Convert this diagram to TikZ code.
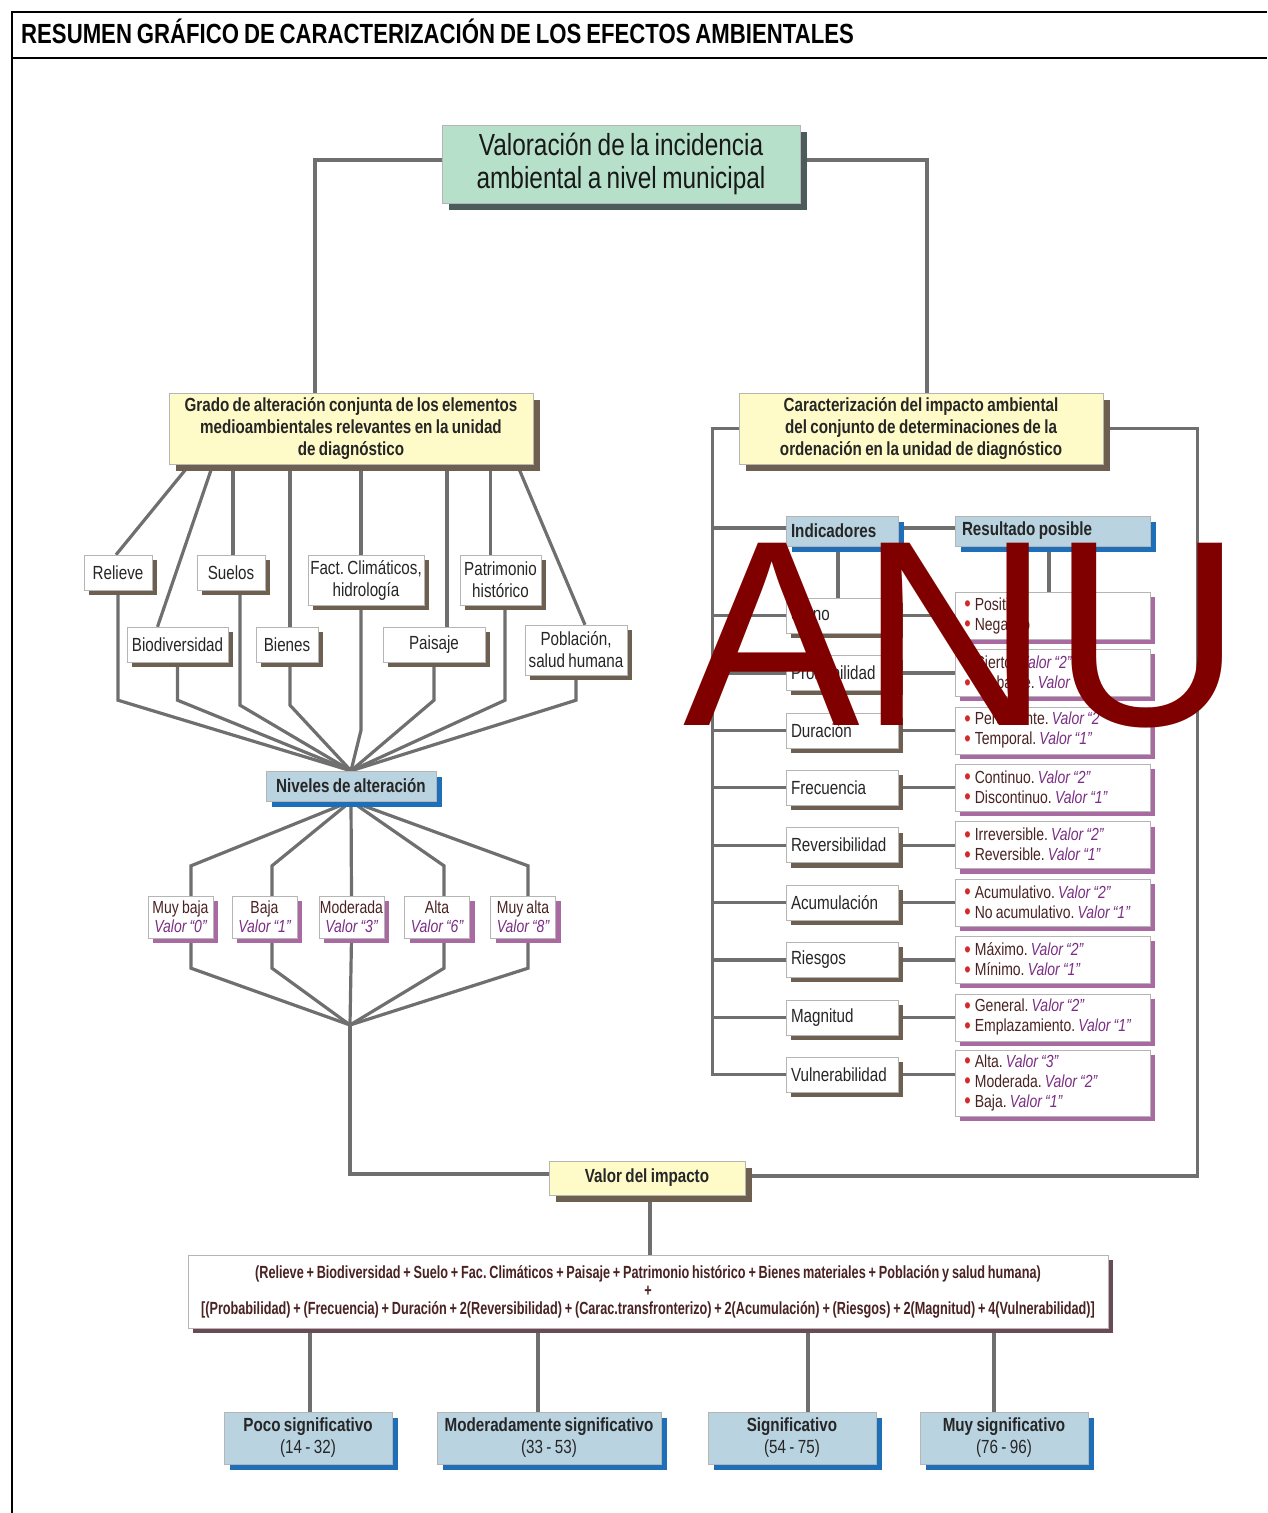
\documentclass[tikz,border=0pt]{standalone}
\usepackage{fontspec}
\setmainfont{Liberation Sans}[FakeStretch=0.8,WordSpace=0.8]
\newfontfamily\formfont{Liberation Sans}[FakeStretch=0.72,WordSpace=0.8]
\newfontfamily\stampfont{Liberation Sans}
\frenchspacing
\usepackage{tikz}
\usetikzlibrary{positioning,shadows,backgrounds}
\definecolor{LineGray}{HTML}{6F6F6F}
\definecolor{MintFill}{HTML}{B6E0C9}
\definecolor{MintShade}{HTML}{4B5C5A}
\definecolor{CreamFill}{HTML}{FFFBC9}
\definecolor{BrownShade}{HTML}{6E6050}
\definecolor{SkyFill}{HTML}{B9D3E0}
\definecolor{SkyShade}{HTML}{1C6FB8}
\definecolor{PlumShade}{HTML}{A96AA2}
\definecolor{MauveShade}{HTML}{6B4A57}
\definecolor{Maroon}{HTML}{4A2222}
\definecolor{Violet}{HTML}{7A2E84}
\definecolor{DotRed}{HTML}{D42A2A}
\definecolor{StampRed}{HTML}{800000}
\definecolor{EdgeGray}{HTML}{B5B5B5}
\newcommand{\fsz}[2]{\fontsize{#1}{#2}\selectfont}
\newcommand{\valor}[1]{\textcolor{Violet}{\itshape Valor “#1”}}
\newcommand{\punto}{\raisebox{-1.5pt}{\textcolor{DotRed}{\fsz{23}{20}\textbullet}}\hspace{4pt}}
\tikzset{
  link/.style={draw=LineGray,line width=3.2pt},
  mainbox/.style={rectangle,draw=EdgeGray,fill=MintFill,align=center,inner sep=0pt,font=\fsz{30.5}{33},text=black!90,
    drop shadow={shadow xshift=7pt,shadow yshift=-7pt,fill=MintShade,opacity=1}},
  creambox/.style={rectangle,draw=EdgeGray,fill=CreamFill,align=center,inner sep=0pt,font=\bfseries\fsz{19}{22},text=black!85,
    drop shadow={shadow xshift=7pt,shadow yshift=-7pt,fill=BrownShade,opacity=1}},
  skybox/.style={rectangle,draw=EdgeGray,fill=SkyFill,align=center,inner sep=0pt,font=\bfseries\fsz{19}{22},text=black!85,
    drop shadow={shadow xshift=6pt,shadow yshift=-6pt,fill=SkyShade,opacity=1}},
  elembox/.style={rectangle,draw=EdgeGray,fill=white,align=center,inner sep=0pt,font=\fsz{19}{22},text=black!85,
    drop shadow={shadow xshift=5pt,shadow yshift=-5pt,fill=BrownShade,opacity=1}},
  levelbox/.style={rectangle,draw=EdgeGray,fill=white,align=center,inner sep=0pt,font=\fsz{17.5}{19},text=Maroon,
    minimum width=65pt,minimum height=42pt,
    drop shadow={shadow xshift=5pt,shadow yshift=-5pt,fill=PlumShade,opacity=1}},
  indbox/.style={elembox,align=flush left,text width=102pt,inner xsep=5pt,minimum height=35pt},
  resbox/.style={rectangle,draw=EdgeGray,fill=white,align=flush left,inner sep=0pt,inner xsep=9pt,text width=177pt,
    minimum height=47pt,font=\fsz{17.5}{20},text=Maroon,
    drop shadow={shadow xshift=5pt,shadow yshift=-5pt,fill=PlumShade,opacity=1}},
}

\begin{document}
\begin{tikzpicture}[x=1pt,y=-1pt]
  \useasboundingbox (0,0) rectangle (1267,1513);
  % frame and heading
  \draw[line width=1.6pt] (12,1513) -- (12,12) -- (1267,12);
  \draw[line width=1.6pt] (12,58) -- (1267,58);
  \node[anchor=base west,inner sep=0pt,font=\bfseries\fsz{27.7}{30}] (title) at (21,43)
    {RESUMEN GRÁFICO DE CARACTERIZACIÓN DE LOS EFECTOS AMBIENTALES};

  % top
  \node[mainbox,minimum width=358pt,minimum height=78pt] (top) at (621,164)
    {Valoración de la incidencia\\ambiental a nivel municipal};

  % two branches
  \node[creambox,minimum width=364pt,minimum height=71pt] (grado) at (351,428.5)
    {Grado de alteración conjunta de los elementos\\medioambientales relevantes en la unidad\\de diagnóstico};
  \node[creambox,minimum width=364pt,minimum height=71pt] (caract) at (921,428.5)
    {Caracterización del impacto ambiental\\del conjunto de determinaciones de la\\ordenación en la unidad de diagnóstico};

  % environmental elements
  \node[elembox,minimum width=68pt,minimum height=35pt] (relieve) at (118,572.5) {Relieve};
  \node[elembox,minimum width=101pt,minimum height=35pt] (biodiv) at (177.5,644.5) {Biodiversidad};
  \node[elembox,minimum width=68pt,minimum height=35pt] (suelos) at (231,572.5) {Suelos};
  \node[elembox,minimum width=62pt,minimum height=35pt] (bienes) at (287,644.5) {Bienes};
  \node[elembox,minimum width=116pt,minimum height=50pt] (climat) at (366,580) {Fact. Climáticos,\\hidrología};
  \node[elembox,minimum width=102pt,minimum height=35pt] (paisaje) at (434,644.5) {Paisaje};
  \node[elembox,minimum width=81pt,minimum height=50pt] (patrim) at (500.5,580) {Patrimonio\\histórico};
  \node[elembox,minimum width=102pt,minimum height=50pt] (poblac) at (576,650) {Población,\\salud humana};

  % levels
  \node[skybox,minimum width=170pt,minimum height=30pt] (niveles) at (351,786) {Niveles de alteración};
  \node[levelbox] (muybaja) at (180.5,917) {Muy baja\\\valor{0}};
  \node[levelbox] (baja) at (264.5,917) {Baja\\\valor{1}};
  \node[levelbox] (moderada) at (351.5,917) {Moderada\\\valor{3}};
  \node[levelbox] (alta) at (437,917) {Alta\\\valor{6}};
  \node[levelbox] (muyalta) at (523,917) {Muy alta\\\valor{8}};
  \coordinate (merge) at (350,1025);

  % indicators
  \node[skybox,align=flush left,text width=102pt,inner xsep=5pt,minimum height=30pt] (indic) at (842,531) {Indicadores};
  \node[skybox,align=flush left,text width=181pt,inner xsep=7pt,minimum height=30pt] (resul) at (1052.5,531) {Resultado posible};
  \node[indbox] (signo) at (842,615.5) {Signo};
  \node[indbox,below=22pt of signo] (probab) {Probabilidad};
  \node[indbox,below=22pt of probab] (durac) {Duración};
  \node[indbox,below=22pt of durac] (frecu) {Frecuencia};
  \node[indbox,below=22pt of frecu] (revers) {Reversibilidad};
  \node[indbox,below=22pt of revers] (acumul) {Acumulación};
  \node[indbox,below=22pt of acumul] (riesgo) {Riesgos};
  \node[indbox,below=22pt of riesgo] (magnit) {Magnitud};
  \node[indbox,below=22pt of magnit] (vulner) {Vulnerabilidad};

  % possible results
  \node[resbox,right=57pt of signo] (rsigno) {\punto Positivo\\\punto Negativo};
  \node[resbox,right=57pt of probab] (rprobab) {\punto Cierto. \valor{2}\\\punto Probable. \valor{1}};
  \node[resbox,right=57pt of durac] (rdurac) {\punto Persistente. \valor{2}\\\punto Temporal. \valor{1}};
  \node[resbox,right=57pt of frecu] (rfrecu) {\punto Continuo. \valor{2}\\\punto Discontinuo. \valor{1}};
  \node[resbox,right=57pt of revers] (rrevers) {\punto Irreversible. \valor{2}\\\punto Reversible. \valor{1}};
  \node[resbox,right=57pt of acumul] (racumul) {\punto Acumulativo. \valor{2}\\\punto No acumulativo. \valor{1}};
  \node[resbox,right=57pt of riesgo] (rriesgo) {\punto Máximo. \valor{2}\\\punto Mínimo. \valor{1}};
  \node[resbox,right=57pt of magnit] (rmagnit) {\punto General. \valor{2}\\\punto Emplazamiento. \valor{1}};
  \node[resbox,right=57pt of vulner,yshift=-8pt,minimum height=66pt] (rvulner) {\punto Alta. \valor{3}\\\punto Moderada. \valor{2}\\\punto Baja. \valor{1}};

  % impact value and formula
  \node[creambox,minimum width=196pt,minimum height=34pt,font=\bfseries\fsz{19}{22}] (valor) at (647,1178) {Valor del impacto};
  \node[rectangle,draw=EdgeGray,fill=white,minimum width=920pt,minimum height=73pt,inner sep=0pt,align=center,
    font=\formfont\bfseries\fsz{17.6}{18},text=Maroon,
    drop shadow={shadow xshift=5pt,shadow yshift=-5pt,fill=MauveShade,opacity=1}] (formula) at (648,1291.5)
    {(Relieve + Biodiversidad + Suelo + Fac. Climáticos + Paisaje + Patrimonio histórico + Bienes materiales + Población y salud humana)\\
     +\\
     {[}(Probabilidad) + (Frecuencia) + Duración + 2(Reversibilidad) + (Carac.transfronterizo) + 2(Acumulación) + (Riesgos) + 2(Magnitud) + 4(Vulnerabilidad){]}};

  % classes
  \node[skybox,minimum width=168pt,minimum height=52pt] (poco) at (308,1438) {Poco significativo\\{\mdseries (14 - 32)}};
  \node[skybox,minimum width=224pt,minimum height=52pt] (modsig) at (549,1438) {Moderadamente significativo\\{\mdseries (33 - 53)}};
  \node[skybox,minimum width=168pt,minimum height=52pt] (sig) at (792,1438) {Significativo\\{\mdseries (54 - 75)}};
  \node[skybox,minimum width=168pt,minimum height=52pt] (muysig) at (1004,1438) {Muy significativo\\{\mdseries (76 - 96)}};

  \begin{scope}[on background layer]
    % from the top
    \draw[link] ([yshift=4pt]top.west) -| ([xshift=-36pt]grado.north);
    \draw[link] ([yshift=4pt]top.east) -| ([xshift=6pt]caract.north);

    % elements
    \draw[link] ([xshift=-161pt]grado.south) -- ([xshift=-2pt]relieve.north);
    \draw[link] ([xshift=-138pt]grado.south) -- ([xshift=-20pt]biodiv.north);
    \draw[link] ([xshift=2pt]suelos.north) -- ([xshift=2pt]suelos.north |- grado.south);
    \draw[link] ([xshift=3pt]bienes.north) -- ([xshift=3pt]bienes.north |- grado.south);
    \draw[link] ([xshift=-5pt]climat.north) -- ([xshift=-5pt]climat.north |- grado.south);
    \draw[link] ([xshift=13pt]paisaje.north) -- ([xshift=13pt]paisaje.north |- grado.south);
    \draw[link] ([xshift=-10pt]patrim.north) -- ([xshift=-10pt]patrim.north |- grado.south);
    \draw[link] ([xshift=166pt]grado.south) -- ([xshift=9pt]poblac.north);

    % down to the levels
    \draw[link] (relieve.south) -- ++(0,110) -- (niveles.north);
    \draw[link] (biodiv.south) -- ++(0,38) -- (niveles.north);
    \draw[link] ([xshift=9pt]suelos.south) -- ++(0,115) -- (niveles.north);
    \draw[link] ([xshift=3pt]bienes.south) -- ++(0,43) -- (niveles.north);
    \draw[link] ([xshift=-5pt]climat.south) -- ++(0,125) -- (niveles.north);
    \draw[link] (paisaje.south) -- ++(0,38) -- (niveles.north);
    \draw[link] ([xshift=4.5pt]patrim.south) -- ++(0,95) -- (niveles.north);
    \draw[link] (poblac.south) -- ++(0,25) -- (niveles.north);

    \draw[link] ([xshift=10.5pt]muybaja.north) -- ++(0,-30) -- (niveles.south);
    \draw[link] ([xshift=7.5pt]baja.north) -- ++(0,-30) -- (niveles.south);
    \draw[link] (moderada.north) -- (niveles.south);
    \draw[link] ([xshift=7pt]alta.north) -- ++(0,-30) -- (niveles.south);
    \draw[link] ([xshift=5pt]muyalta.north) -- ++(0,-30) -- (niveles.south);

    \draw[link] ([xshift=10.5pt]muybaja.south) -- ++(0,30) -- (merge);
    \draw[link] ([xshift=7.5pt]baja.south) -- ++(0,30) -- (merge);
    \draw[link] (moderada.south) -- (merge);
    \draw[link] ([xshift=7pt]alta.south) -- ++(0,30) -- (merge);
    \draw[link] ([xshift=5pt]muyalta.south) -- ++(0,30) -- (merge);
    \draw[link] (merge) |- ([yshift=4pt]valor.west);

    % indicators
    \draw[link] (caract.west) -| ([xshift=-73pt]vulner.west) -- (vulner.west);
    \draw[link] (caract.east) -- ++(94,0) |- ([yshift=2pt]valor.east);
    \draw[link] ([yshift=3pt]indic.west) -- ++(-73,0);
    \draw[link] ([yshift=3pt]indic.east) -- ([yshift=3pt]resul.west);
    \draw[link] ([xshift=-4pt]indic.south) -- ([xshift=-4pt]signo.north);
    \draw[link] ([xshift=-3.5pt]resul.south) -- ([xshift=-3.5pt]resul.south |- rsigno.north);
    \draw[link] (signo.west) -- ++(-73,0);
    \draw[link] (probab.west) -- ++(-73,0);
    \draw[link] (durac.west) -- ++(-73,0);
    \draw[link] (frecu.west) -- ++(-73,0);
    \draw[link] (revers.west) -- ++(-73,0);
    \draw[link] (acumul.west) -- ++(-73,0);
    \draw[link] (riesgo.west) -- ++(-73,0);
    \draw[link] (magnit.west) -- ++(-73,0);
    \draw[link] (signo) -- (rsigno);
    \draw[link] (probab) -- (rprobab);
    \draw[link] (durac) -- (rdurac);
    \draw[link] (frecu) -- (rfrecu);
    \draw[link] (revers) -- (rrevers);
    \draw[link] (acumul) -- (racumul);
    \draw[link] (riesgo) -- (rriesgo);
    \draw[link] (magnit) -- (rmagnit);
    \draw[link] (vulner.east) -- (vulner.east -| rvulner.west);

    % formula and classes
    \draw[link] ([xshift=3pt]valor.south) -- ([xshift=3pt]valor.south |- formula.north);
    \draw[link] ([xshift=2pt]poco.north) -- ([xshift=2pt]poco.north |- formula.south);
    \draw[link] ([xshift=-11pt]modsig.north) -- ([xshift=-11pt]modsig.north |- formula.south);
    \draw[link] ([xshift=16pt]sig.north) -- ([xshift=16pt]sig.north |- formula.south);
    \draw[link] ([xshift=-10pt]muysig.north) -- ([xshift=-10pt]muysig.north |- formula.south);
  \end{scope}

  % stamp
  \node[anchor=base west,inner sep=0pt,font=\stampfont\fsz{265}{265},text=StampRed] (stamp) at (683,725) {ANU};
\end{tikzpicture}
\end{document}
